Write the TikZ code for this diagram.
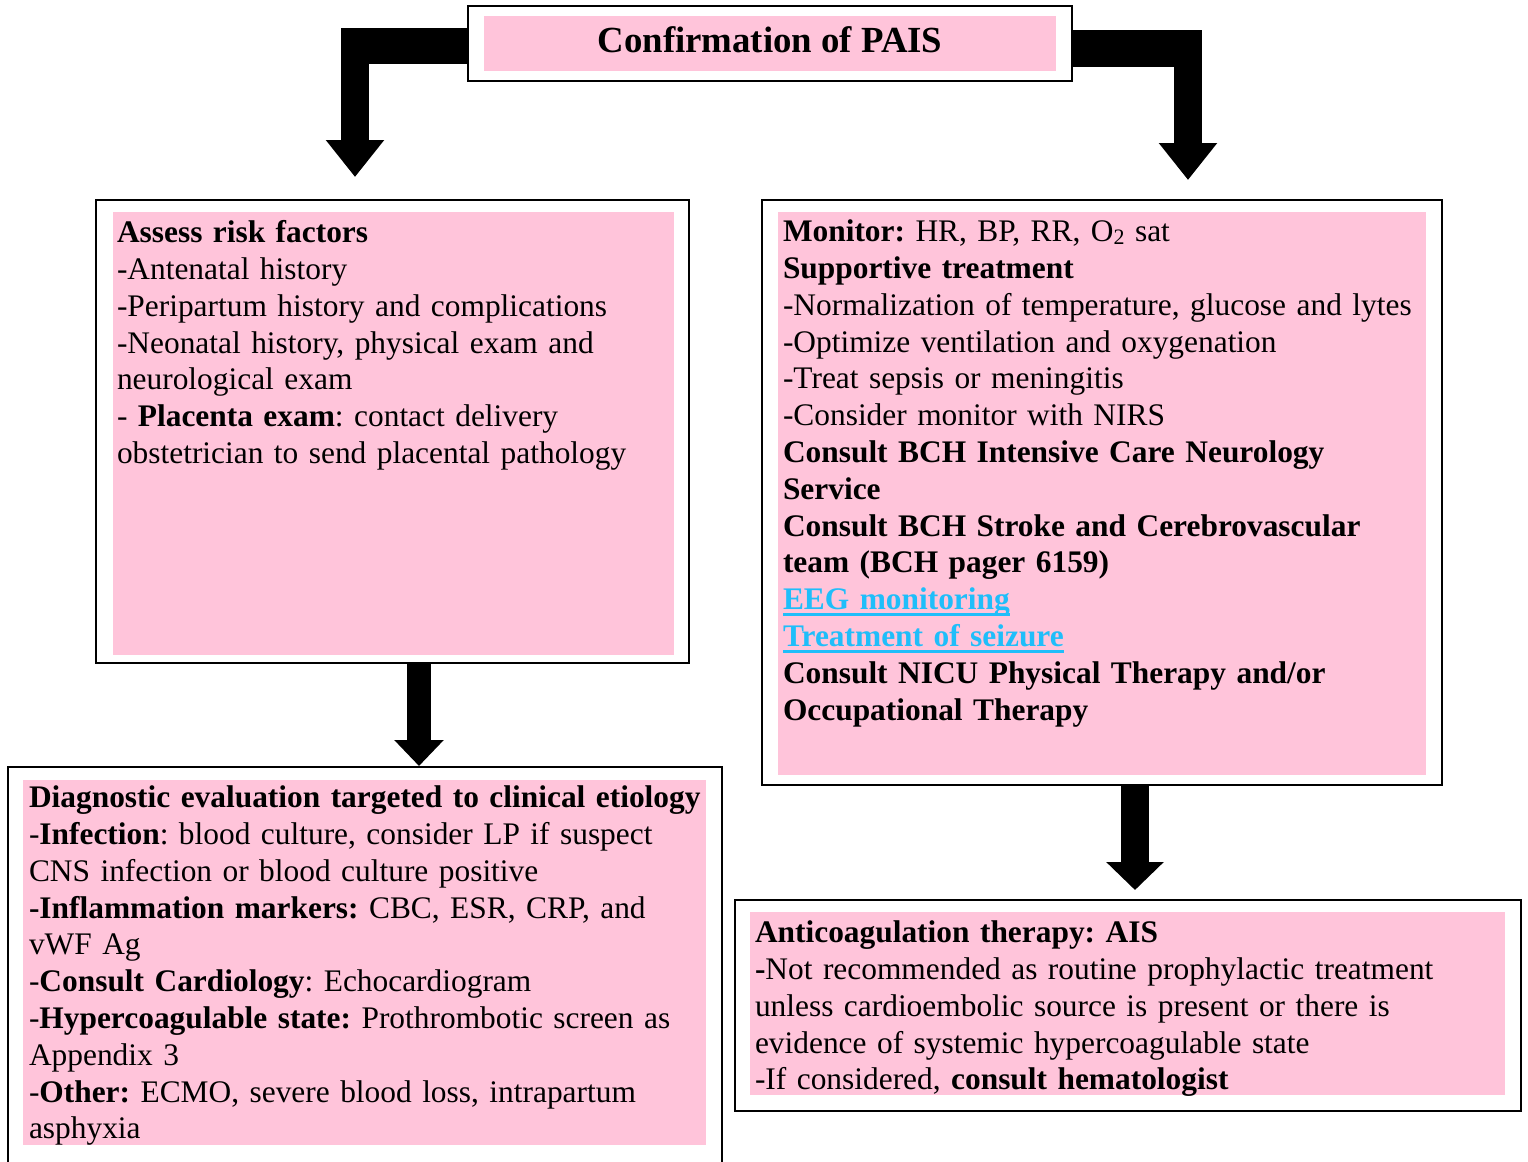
\documentclass[tikz,border=0pt]{standalone}
\usepackage{fontspec}
\setmainfont{Liberation Serif}
\usepackage{tikz}
\usetikzlibrary{positioning,arrows.meta,fit,calc}
\definecolor{boxpink}{HTML}{FFC4DA}
\definecolor{linkblue}{HTML}{1FBEFA}
\frenchspacing
\newcommand\linktext[1]{\textcolor{linkblue}{\setbox0\hbox{\textbf{#1}}\rlap{\raisebox{-3.3pt}{\rule{\wd0}{1.6pt}}}\box0}}

\begin{document}
\begin{tikzpicture}[x=0.5pt,y=-0.5pt,
  every node/.style={inner sep=0pt,outer sep=0pt},
  outerbox/.style={draw=black,line width=1pt,fill=white},
  pinkbg/.style={fill=boxpink},
  txt/.style={font=\fontsize{15.7}{18.4}\selectfont,align=left,text width=360pt,anchor=north west},
  fatbar/.style={line width=#1,black}]
\clip (0,0) rectangle (1528,1162);

% title
\node[outerbox,line width=0.8pt,fit={(468,6) (1072,81)}] (title) {};
\node[pinkbg,fit={(484,16) (1056,71)}] (titlebg) {};
\node[font=\fontsize{18.4}{22}\selectfont\bfseries,anchor=base] (titletxt) at (770,52) {Confirmation of PAIS};

% boxes
\node[outerbox,fit={(96,200) (689,663)}] (risk) {};
\node[pinkbg,fit={(113,212) (674,655)}] (riskbg) {};
\node[txt] (risktxt) at (117,217) {\strut\textbf{Assess risk factors}\\
-Antenatal history\\
-Peripartum history and complications\\
-Neonatal history, physical exam and\\
neurological exam\\
- \textbf{Placenta exam}: contact delivery\\
obstetrician to send placental pathology};

\node[outerbox,fit={(762,200) (1442,785)}] (care) {};
\node[pinkbg,fit={(778,212) (1426,775)}] (carebg) {};
\node[txt] (caretxt) at (783,216) {\strut\textbf{Monitor:} HR, BP, RR, O\raisebox{-1.5pt}{\fontsize{11}{12}\selectfont 2} sat\\
\textbf{Supportive treatment}\\
-Normalization of temperature, glucose and lytes\\
-Optimize ventilation and oxygenation\\
-Treat sepsis or meningitis\\
-Consider monitor with NIRS\\
\textbf{Consult BCH Intensive Care Neurology}\\
\textbf{Service}\\
\textbf{Consult BCH Stroke and Cerebrovascular}\\
\textbf{team (BCH pager 6159)}\\
\linktext{EEG monitoring}\\
\linktext{Treatment of seizure}\\
\textbf{Consult NICU Physical Therapy and/or}\\
\textbf{Occupational Therapy}};

\node[outerbox,fit={(8,767) (722,1190)}] (diag) {};
\node[pinkbg,fit={(23,780) (706,1145)}] (diagbg) {};
\node[txt] (diagtxt) at (29,782) {\strut\textbf{Diagnostic evaluation targeted to clinical etiology}\\
-\textbf{Infection}: blood culture, consider LP if suspect\\
CNS infection or blood culture positive\\
\textbf{-Inflammation markers:} CBC, ESR, CRP, and\\
vWF Ag\\
-\textbf{Consult Cardiology}: Echocardiogram\\
-\textbf{Hypercoagulable state:} Prothrombotic screen as\\
Appendix 3\\
-\textbf{Other:} ECMO, severe blood loss, intrapartum\\
asphyxia};

\node[outerbox,fit={(735,900) (1521,1111)}] (anticoag) {};
\node[pinkbg,fit={(750,912) (1505,1095)}] (anticoagbg) {};
\node[txt] (anticoagtxt) at (755,917) {\strut\textbf{Anticoagulation therapy: AIS}\\
\textbf{-}Not recommended as routine prophylactic treatment\\
unless cardioembolic source is present or there is\\
evidence of systemic hypercoagulable state\\
-If considered, \textbf{consult hematologist}};

% arrows
\coordinate (lbend) at (355,46);
\coordinate (rbend) at (1188,48.5);
\draw[fatbar=18pt] (title.west |- lbend) -- ([xshift=-7pt]lbend);
\draw[fatbar=14pt,-{Triangle[width=28pt,length=18.5pt]}] ([yshift=9pt]lbend) -- ([yshift=11.5pt]risk.north -| lbend);
\draw[fatbar=18.5pt] (title.east |- rbend) -- ([xshift=7pt]rbend);
\draw[fatbar=14pt,-{Triangle[width=28pt,length=18.5pt]}] ([yshift=9.25pt]rbend) -- ([yshift=10pt]care.north -| rbend);

\coordinate (lmid) at (419,0);
\coordinate (rmid) at (1135,0);
\draw[fatbar=12pt,-{Triangle[width=24pt,length=13pt]}] (risk.south -| lmid) -- ([yshift=0.5pt]diag.north -| lmid);
\draw[fatbar=14pt,-{Triangle[width=28pt,length=14pt]}] (care.south -| rmid) -- ([yshift=5pt]anticoag.north -| rmid);
\end{tikzpicture}
\end{document}
